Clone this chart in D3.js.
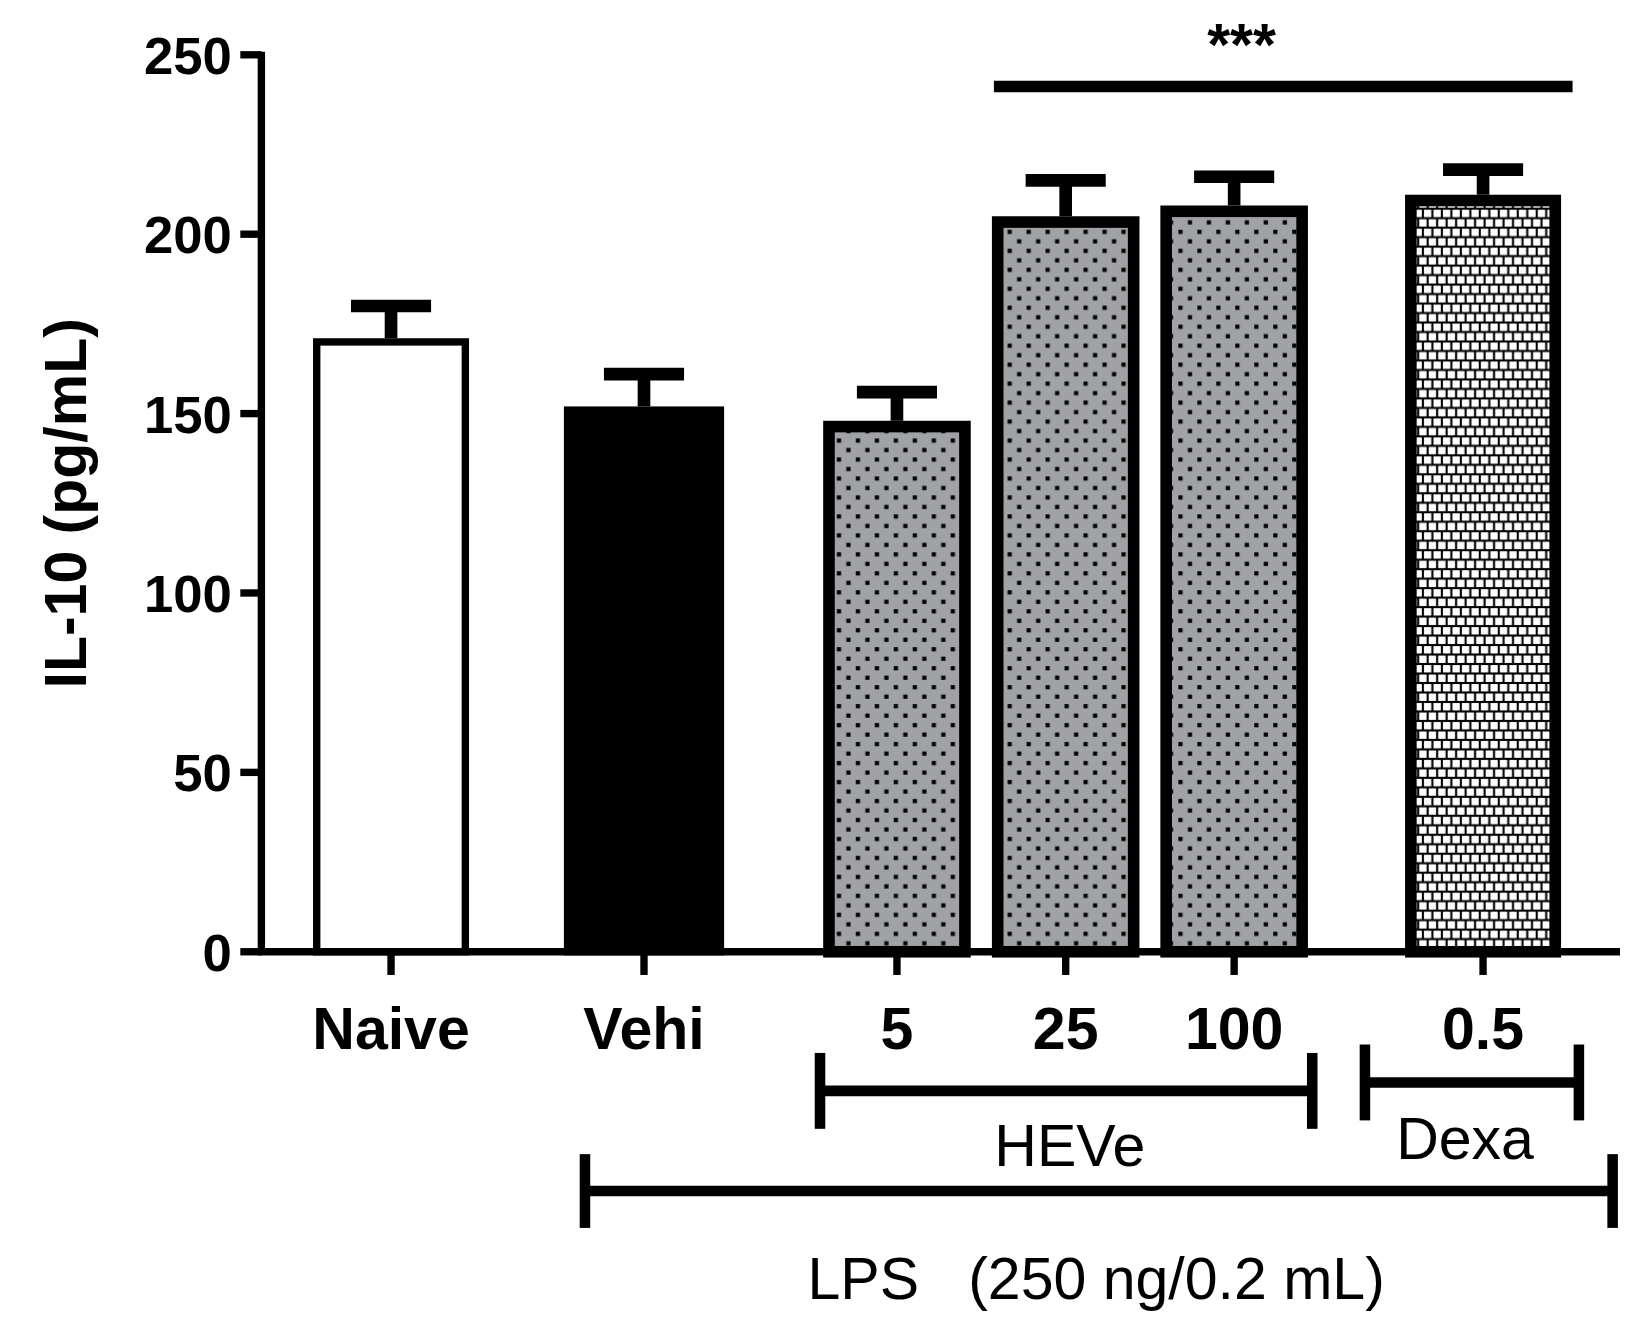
<!DOCTYPE html>
<html lang="en">
<meta charset="UTF-8">
<script src="https://d3js.org/d3.v7.min.js"></script>
<style>
body {margin:0; background:#fff; font-family: Arial, "Liberation Sans", sans-serif;}
</style>
<body>
<div id="chart"></div>
<script>
// data
var groups = ["Naive", "Vehi", "5", "25", "100", "0.5"];
var slots = [0, 1, 2, 2.667, 3.333, 4.317];   // horizontal group positions (group units)
var means = [171, 152, 148, 205, 208, 211];
var sems = [9, 9, 8, 10, 8, 7];
var fills = ["white", "black", "dots", "dots", "dots", "checker"];
var yTicks = [0, 50, 100, 150, 200, 250];

var width = 1650, height = 1338;
var root = d3.select("#chart").append("svg")
    .attr("width", width).attr("height", height);

// patterns
var defs = root.append("defs");
var dots = defs.append("pattern").attr("id", "dots")
    .attr("patternUnits", "userSpaceOnUse").attr("width", 18).attr("height", 18);
dots.append("rect").attr("width", 18).attr("height", 18).attr("fill", "#a0a2a6");
dots.append("rect").attr("x", 2).attr("y", 2).attr("width", 4).attr("height", 4).attr("fill", "black");
dots.append("rect").attr("x", 11).attr("y", 11).attr("width", 4).attr("height", 4).attr("fill", "black");
var chk = defs.append("pattern").attr("id", "checker")
    .attr("patternUnits", "userSpaceOnUse").attr("width", 18).attr("height", 18);
chk.append("rect").attr("width", 18).attr("height", 18).attr("fill", "black");
[[1,1],[10,1],[5.5,10],[14.5,10],[-3.5,10]].forEach(function(p) {
  chk.append("rect").attr("x", p[0]).attr("y", p[1]).attr("width", 7).attr("height", 7).attr("fill", "white");
});

var svg = root.append("g").attr("transform", "scale(1.054)");

var x = d3.scaleLinear().domain([0, 1]).range([371, 611]);
var y = d3.scaleLinear().domain([0, 250]).range([903, 52]);
var halfW = [74, 76, 70, 70, 70, 74];

// y axis
svg.append("line").attr("x1", 248).attr("x2", 248).attr("y1", y(250) - 3).attr("y2", y(0) + 3)
    .attr("stroke", "black").attr("stroke-width", 7);
yTicks.forEach(function(t) {
  svg.append("line").attr("x1", 228).attr("x2", 248).attr("y1", y(t)).attr("y2", y(t))
      .attr("stroke", "black").attr("stroke-width", 7);
  svg.append("text").attr("x", 220).attr("y", y(t)).attr("dy", "0.36em")
      .attr("text-anchor", "end").attr("font-size", 50).attr("font-weight", "bold").text(t);
});
svg.append("text").attr("transform", "translate(82," + y(125) + ") rotate(-90)")
    .attr("text-anchor", "middle").attr("font-size", 56).attr("font-weight", "bold")
    .text("IL-10 (pg/mL)");

// error bars
groups.forEach(function(g, i) {
  var cx = x(slots[i]);
  svg.append("line").attr("x1", cx).attr("x2", cx).attr("y1", y(means[i])).attr("y2", y(means[i] + sems[i]))
      .attr("stroke", "black").attr("stroke-width", 12);
  svg.append("line").attr("x1", cx - 38).attr("x2", cx + 38)
      .attr("y1", y(means[i] + sems[i])).attr("y2", y(means[i] + sems[i]))
      .attr("stroke", "black").attr("stroke-width", 12);
});

// bars
groups.forEach(function(g, i) {
  var cx = x(slots[i]);
  var sw = i < 2 ? 7 : 11;
  var f = fills[i] === "dots" || fills[i] === "checker" ? "url(#" + fills[i] + ")" : fills[i];
  svg.append("rect").attr("x", cx - halfW[i] + sw / 2).attr("width", 2 * halfW[i] - sw)
      .attr("y", y(means[i]) + sw / 2).attr("height", y(0) - y(means[i]) - sw / 2)
      .attr("fill", f).attr("stroke", "black").attr("stroke-width", sw);
});

// x axis
svg.append("line").attr("x1", 245).attr("x2", 1537).attr("y1", y(0)).attr("y2", y(0))
    .attr("stroke", "black").attr("stroke-width", 7);
groups.forEach(function(g, i) {
  var cx = x(slots[i]);
  svg.append("line").attr("x1", cx).attr("x2", cx).attr("y1", y(0)).attr("y2", y(0) + 22)
      .attr("stroke", "black").attr("stroke-width", 7);
  svg.append("text").attr("x", cx).attr("y", 995).attr("text-anchor", "middle")
      .attr("font-size", 56).attr("font-weight", "bold").text(g);
});

// significance
svg.append("line").attr("x1", 943).attr("x2", 1492).attr("y1", 82).attr("y2", 82)
    .attr("stroke", "black").attr("stroke-width", 11);
svg.append("text").attr("x", 1178).attr("y", 62).attr("text-anchor", "middle")
    .attr("font-size", 56).attr("font-weight", "bold").text("***");

// brackets
function bracket(x1, x2, yc, h) {
  svg.append("line").attr("x1", x1).attr("x2", x2).attr("y1", yc).attr("y2", yc)
      .attr("stroke", "black").attr("stroke-width", 10);
  [x1, x2].forEach(function(xx) {
    svg.append("line").attr("x1", xx).attr("x2", xx).attr("y1", yc - h).attr("y2", yc + h)
        .attr("stroke", "black").attr("stroke-width", 10);
  });
}
bracket(778, 1245, 1035, 36);
bracket(1295, 1498, 1027, 36);
bracket(555, 1530, 1130, 35);
svg.append("text").attr("x", 1015).attr("y", 1106).attr("text-anchor", "middle")
    .attr("font-size", 56).text("HEVe");
svg.append("text").attr("x", 1390).attr("y", 1100).attr("text-anchor", "middle")
    .attr("font-size", 56).text("Dexa");
svg.append("text").attr("x", 1040).attr("y", 1232).attr("text-anchor", "middle")
    .attr("font-size", 56).attr("xml:space", "preserve").text("LPS   (250 ng/0.2 mL)");
</script>
</body>
</html>
